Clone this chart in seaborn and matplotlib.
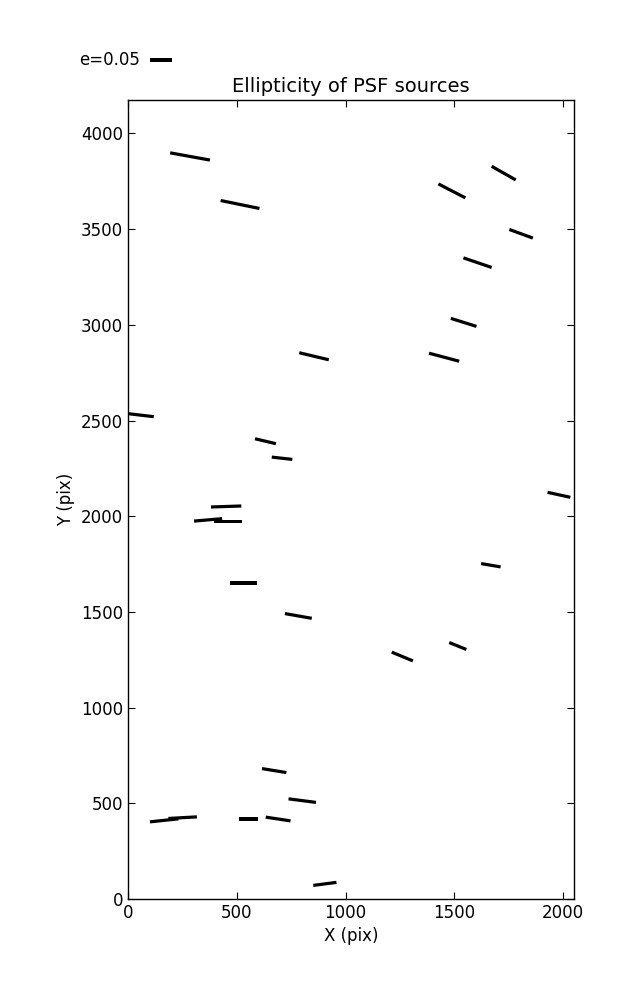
import matplotlib
matplotlib.use('Agg')
import matplotlib.pyplot as plt
import seaborn as sns
import numpy as np

# PSF source positions (pix) and ellipticity sticks
x_pix = [285, 515, 1489, 1727, 1807, 1607, 1543, 1453, 855, 60,
         632, 708, 451, 368, 460, 1981, 1668, 530, 783, 1261,
         1516, 672, 801, 166, 251, 554, 690, 905]
y_pix = [3880, 3629, 3700, 3793, 3476, 3325, 3013, 2831, 2836, 2528,
         2392, 2303, 2051, 1981, 1972, 2112, 1744, 1651, 1479, 1267,
         1322, 671, 514, 411, 425, 418, 418, 79]
ellip = [0.092, 0.090, 0.069, 0.063, 0.057, 0.068, 0.061, 0.071, 0.069, 0.058,
         0.049, 0.047, 0.069, 0.064, 0.064, 0.053, 0.045, 0.060, 0.062, 0.052,
         0.042, 0.056, 0.063, 0.065, 0.065, 0.042, 0.057, 0.053]
angle_deg = [-10.3, -11.6, -27.4, -29.5, -20.1, -18.8, -17.4, -14.9, -13.4, -6.7,
             -13.4, -6.4, 1.9, 4.9, 0.0, -12.3, -9.6, 0.0, -10.0, -22.5,
             -22.0, -9.3, -7.4, 6.0, 3.2, 0.0, -8.5, 7.4]

sns.set_theme(style='ticks')
plt.rcParams['font.family'] = ['DejaVu Sans']
plt.rcParams['text.color'] = 'black'
plt.rcParams['xtick.direction'] = 'in'
plt.rcParams['ytick.direction'] = 'in'
plt.rcParams['xtick.top'] = True
plt.rcParams['ytick.right'] = True

fig = plt.figure(figsize=(6.37, 10), dpi=100)
ax = fig.add_axes([0.201, 0.101, 0.70, 0.799])

th = np.deg2rad(angle_deg)
e = np.array(ellip)
u = e * np.cos(th)
v = e * np.sin(th)

q = ax.quiver(x_pix, y_pix, u, v, pivot='middle', color='black',
              headwidth=0, headlength=0, headaxislength=0,
              units='dots', width=3.2, scale_units='dots', scale=0.05 / 22.0,
              angles='uv')
ax.quiverkey(q, 0.253 - 0.018, 0.94, 0.05, 'e=0.05', labelpos='W', coordinates='figure',
             fontproperties={'size': 12}, labelsep=0.1, labelcolor='black')

ax.set_xlim(0, 2050)
ax.set_ylim(0, 4175)
ax.set_xticks(np.arange(0, 2001, 500))
ax.set_yticks(np.arange(0, 4001, 500))
ax.tick_params(labelsize=12, length=5, width=0.8, color='black', labelcolor='black')
for s in ax.spines.values():
    s.set_color('black')
    s.set_linewidth(1.0)
ax.set_xlabel('X (pix)', fontsize=12, color='black')
ax.set_ylabel('Y (pix)', fontsize=12, color='black')
ax.set_title('Ellipticity of PSF sources', fontsize=14, color='black')

fig.savefig('out.png', dpi=100)
